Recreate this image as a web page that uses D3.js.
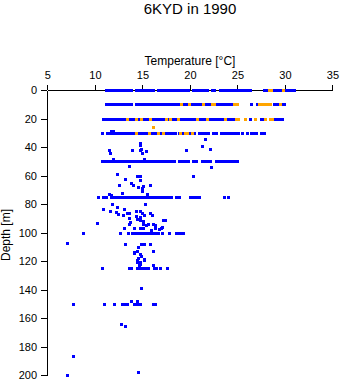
<!DOCTYPE html>
<html><head><meta charset="utf-8">
<script src="https://cdn.jsdelivr.net/npm/d3@7"></script>
<style>
body{margin:0;background:#fff;}
svg{display:block;font-family:"Liberation Sans",Arial,Helvetica,sans-serif;}
</style></head>
<body>
<svg id="c" width="341" height="384"></svg>
<script>
// ---- data (temperature in °C, depth in m) ----
const titleText = "6KYD in 1990";
const xTicks = [5, 10, 15, 20, 25, 30, 35];
const yTicks = [0, 20, 40, 60, 80, 100, 120, 140, 160, 180, 200];

// depths of the standard-level rows
const blueRowDepths = [0, 10, 20, 30, 50, 75, 100, 125, 150];
const blueRowTemps = [
  [11.2,11.5,11.8,12.1,12.4,12.7,13.0,13.3,13.6,13.9,14.4,14.7,15.0,15.3,15.6,15.9,16.2,16.7,17.0,17.3,17.6,17.9,18.2,18.5,18.8,19.1,19.4,19.7,19.9,20.4,20.7,21.0,21.3,21.6,21.9,22.4,22.6,23.2,23.5,23.8,24.1,24.4,24.7,25.0,25.3,25.6,25.9,26.2,26.4,27.8,28.1,28.4,28.7,29.0,29.3,29.6,29.9,30.2,30.5,30.8,31.0],
  [11.2,11.5,11.8,12.1,12.4,12.7,13.0,13.3,13.6,13.9,14.4,14.7,15.0,15.3,15.6,15.9,16.2,16.5,16.8,17.1,17.4,17.7,18.0,18.3,18.6,18.9,19.2,19.5,19.8,20.1,20.4,20.7,21.0,21.3,21.6,21.9,22.2,22.5,22.8,23.1,23.4,23.7,24.0,24.3,24.45,26.5,27.1,28.0,28.9,29.2,29.8,30.0],
  [10.9,11.2,11.5,11.8,12.1,12.4,12.7,13.0,13.3,13.6,13.9,14.2,14.5,14.8,15.1,15.4,15.7,16.0,16.3,16.6,16.9,17.2,17.5,17.8,18.1,18.4,18.7,19.0,19.3,19.6,19.9,20.2,20.5,20.8,21.1,21.4,21.7,22.0,22.3,22.6,22.9,23.2,23.5,23.8,24.1,24.4,24.6,26.4,27.5,27.7,28.9,29.2,29.4,29.7],
  [10.8,11.3,11.6,11.9,12.2,12.5,12.8,13.1,13.4,13.7,14.0,14.3,14.6,14.9,15.2,15.5,15.8,16.1,16.4,16.7,17.0,17.3,17.6,17.9,18.2,18.45,18.9,19.2,19.5,19.8,20.1,20.45,21.0,21.3,21.6,21.95,22.45,22.8,23.35,23.65,23.95,24.25,24.55,24.85,25.15,25.55,26.05,26.45,26.75,27.0,27.5,27.8],
  [10.85,11.15,11.45,11.75,12.05,12.35,12.65,12.95,13.25,13.55,13.85,14.15,14.45,14.75,15.05,15.35,15.65,15.95,16.25,16.55,16.85,17.15,17.45,17.75,18.05,18.35,18.95,19.25,19.5,19.9,20.35,20.7,21.35,21.65,21.95,22.2,22.8,23.1,23.4,23.7,24.0,24.3,24.6,24.9,25.05],
  [10.35,10.9,11.25,11.75,12.05,12.35,12.65,12.95,13.25,13.55,13.85,14.15,14.45,14.75,15.05,15.35,15.65,15.95,16.25,16.55,16.85,17.15,17.45,17.75,18.1,18.6,18.9,20.1,20.4,20.65,21.05,23.6,24.05],
  [8.77,12.7,13.5,14.0,14.3,14.6,14.9,15.2,15.5,15.8,16.1,16.4,16.7,17.12,17.86,18.6,18.9,19.2,19.35],
  [10.81,13.65,13.9,14.45,14.75,15.05,15.35,15.6,16.25,16.5,16.86,17.63],
  [7.71,10.98,12.04,12.88,13.16,13.41,14.22,14.46,14.75,16.22,16.43]
];

const orangeRowDepths = [0, 10, 20, 30];
const orangeRowTemps = [
  [28.4,28.6,29.8],
  [19.1,20.0,21.4,22.4,22.6,24.7,25.0,27.3,27.6,27.8,28.2,28.5,29.55],
  [13.45,14.35,14.95,15.9,17.5,17.95,18.75,20.8,21.8,23.75,24.9,25.1,25.85,26.9,27.95,28.5,28.7],
  [14.35,15.75,16.65,17.2,19.05,19.55,19.75,20.25]
];

// scattered observations: [temperature, depth]
const blueScatter = [
  [11.75,29],[11.95,29],
  [14.75,37.1],[14.85,38.5],[21.68,34.3],[21.3,39],[22.13,41.3],[19.6,41.8],[11.51,41.8],[11.65,44.1],
  [13.94,41.8],[14.75,41.8],[14.92,41.5],[15.38,42.9],[14.99,44.1],[11.93,48.1],[15.27,48.1],
  [13.62,53],[22.24,53.9],[12.35,58.8],[14.5,60],[14.85,60],[20.37,60],[13.24,62.8],[14.85,63.5],
  [13.87,65.1],[14.04,66.8],[12.56,67],[14.57,67.9],[15.1,67.5],[15.0,69],[15.9,67],[15.0,71],
  [12.88,72.2],[11.51,72.8],[11.76,73.8],[15.56,72.8],
  [11.83,79.8],[15.35,79.8],[10.88,83.2],[12.35,82],[11.69,85],[12.29,85.8],[12.46,86.9],[13.06,87.4],[13.16,83.4],
  [13.4,86.2],[13.69,86.2],[14.39,84.6],[14.82,85],[15.03,86.2],[14.4,88.1],[14.75,89],[14.5,90.4],
  [14.85,90.9],[15.1,92.1],[15.8,86.2],[16.04,87.4],[15.27,88],[13.62,89.7],[13.69,93.7],[13.75,92.5],
  [15.62,93.7],[16.33,94.4],[17.46,91.4],[17.2,90.9],[16.96,96.7],[17.1,96],[13.1,96.7],[14.15,96.7],[14.75,96.7],
  [15.1,94],[15.1,96.5],[15.38,95],[15.98,97.9],[10.24,93.2],[16.4,96.7],[16.15,93.9],[16.85,97.5],
  [7.12,107.7],[13.27,108],[14.9,108],[15.2,108],[15.8,108],[16.15,113],[14.64,110],[14.5,113],[14.22,113.6],
  [14.15,114.3],[14.82,115.4],[14.92,116.6],[14.57,117.8],[14.46,119],[15.2,118.5],[15.17,119.4],[14.5,120.8],
  [14.75,120.8],[14.82,122],[16.15,122.5],[14.7,123],
  [14.89,138.8],[13.83,148],[14.46,148.2],[12.85,163.9],[13.2,165.7],[7.71,186.8],[7.08,199.9],[14.57,197.8]
];
const orangeScatter = [[16.15,25.8]];

// ---- drawing ----
const svg = d3.select("#c");
const x = d3.scaleLinear().domain([5, 35]).range([47.4, 332.4]);
const y = d3.scaleLinear().domain([0, 200]).range([90, 375]);
const blue = "#0000ff", orange = "#ffa500";

function rowsToPoints(depths, temps) {
  const out = [];
  depths.forEach((d, i) => temps[i].forEach(t => out.push([t, d])));
  return out;
}
const bluePts = rowsToPoints(blueRowDepths, blueRowTemps).concat(blueScatter);
const orangePts = rowsToPoints(orangeRowDepths, orangeRowTemps).concat(orangeScatter);

const xAxis = svg.append("g").attr("transform", "translate(0,90)")
  .call(d3.axisTop(x).tickValues(xTicks).tickSize(5).tickPadding(6.5).tickSizeOuter(0));
const yAxis = svg.append("g").attr("transform", "translate(47,0)")
  .call(d3.axisLeft(y).tickValues(yTicks).tickSize(6).tickPadding(4).tickSizeOuter(0));
[xAxis, yAxis].forEach(g => {
  g.selectAll("path,line").attr("stroke", "#000").attr("shape-rendering", "crispEdges");
  g.selectAll("text").attr("font-size", "11px").attr("fill", "#000")
   .attr("font-family", "'Liberation Sans', Arial, sans-serif");
});

function drawPts(pts, color) {
  svg.append("g").attr("shape-rendering", "crispEdges")
    .selectAll("rect").data(pts).join("rect")
    .attr("x", d => Math.round(x(d[0]) - 1.5))
    .attr("y", d => Math.round(y(d[1]) - 1))
    .attr("width", 3).attr("height", 3)
    .attr("fill", color);
}
drawPts(bluePts, blue);
drawPts(orangePts, orange);

svg.append("text").attr("x", 190).attr("y", 14).attr("text-anchor", "middle")
  .attr("font-size", "15px").text(titleText);
svg.append("text").attr("x", 190).attr("y", 65).attr("text-anchor", "middle")
  .attr("font-size", "12px").text("Temperature [°C]");
svg.append("text").attr("transform", "translate(10,235) rotate(-90)").attr("text-anchor", "middle")
  .attr("font-size", "12px").text("Depth [m]");
</script>
</body></html>
